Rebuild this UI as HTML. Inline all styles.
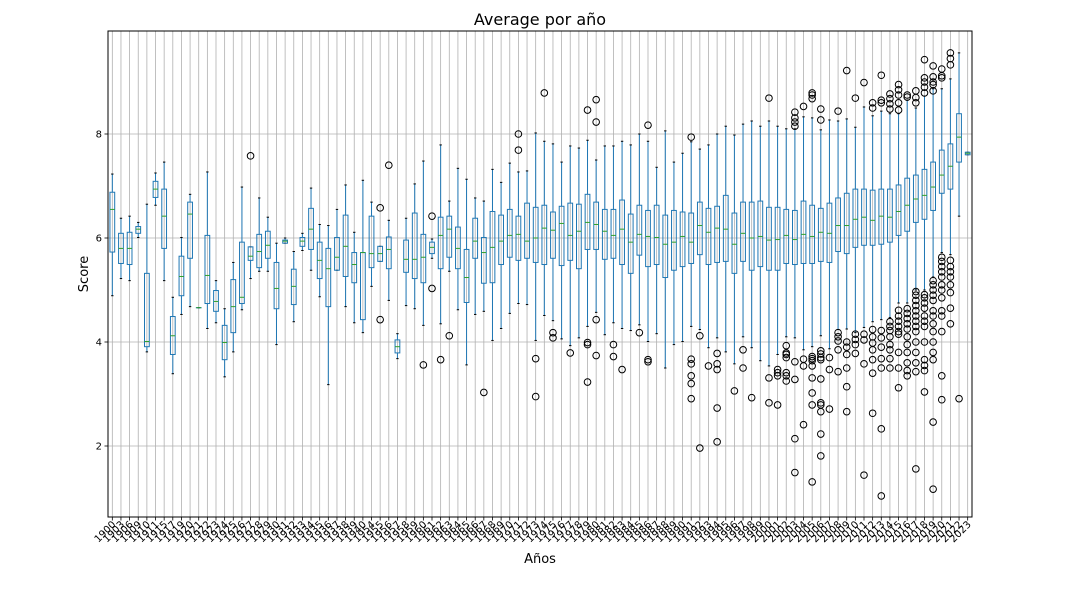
<!DOCTYPE html>
<html><head><meta charset="utf-8"><style>
html,body{margin:0;padding:0;background:#fff;}
svg{display:block;font-family:"DejaVu Sans","Liberation Sans",sans-serif;}
</style></head><body>
<svg id="chart" width="1080" height="614" viewBox="0 0 1080 614" xmlns="http://www.w3.org/2000/svg">
<rect x="0" y="0" width="1080" height="614" fill="#fff"/>
<text x="540" y="25" font-size="16" text-anchor="middle" fill="#000">Average por año</text>
<text x="0" y="0" font-size="13" text-anchor="middle" transform="translate(88,274) rotate(-90)">Score</text>
<text x="540" y="563" font-size="13" text-anchor="middle">Años</text>
<g id="grid"></g><g id="marks"></g><g id="axes"></g>
</svg>
<script>
const years = [1900,1903,1906,1909,1910,1911,1915,1917,1919].concat(Array.from({length:21},(_, i)=>1920+i)).concat(Array.from({length:70},(_, i)=>1954+i));
const whiskLo = [4.89,5.22,5.18,6.01,3.81,6.63,5.18,3.39,4.53,4.68,4.66,4.26,4.37,3.33,3.81,4.62,5.22,5.36,5.36,3.95,5.90,4.39,5.76,5.38,4.87,3.18,5.38,4.68,4.37,4.18,5.07,5.55,4.80,3.68,4.70,4.64,4.32,5.61,4.35,5.36,4.62,3.56,4.53,4.59,4.03,4.26,4.55,4.74,4.72,4.03,4.51,4.41,4.06,3.93,4.08,4.30,4.57,4.14,4.37,4.26,4.22,4.33,4.01,4.16,3.50,3.95,4.01,4.30,4.24,3.89,4.08,3.81,3.58,4.10,3.89,3.64,3.54,3.76,4.10,4.08,3.85,3.91,4.12,3.87,4.24,4.25,4.18,4.28,4.39,4.43,4.47,4.75,4.75,5.0,5.0,5.25,5.72,5.68,6.42,7.60];
const q1 = [5.73,5.51,5.49,6.09,3.91,6.78,5.80,3.76,4.89,5.61,4.66,4.74,4.59,3.66,4.18,4.74,5.57,5.43,5.61,4.64,5.90,4.72,5.84,5.78,5.22,4.68,5.38,5.26,5.14,4.43,5.43,5.55,5.41,3.79,5.34,5.22,5.14,5.70,5.41,5.63,5.41,4.76,5.61,5.13,5.14,5.49,5.63,5.57,5.61,5.53,5.49,5.61,5.47,5.57,5.41,5.78,5.78,5.59,5.61,5.49,5.32,5.67,5.45,5.49,5.24,5.38,5.45,5.51,5.68,5.49,5.53,5.55,5.32,5.55,5.38,5.45,5.38,5.38,5.51,5.49,5.51,5.51,5.55,5.53,5.74,5.70,5.82,5.86,5.86,5.88,5.92,6.05,6.13,6.30,6.36,6.53,6.86,6.94,7.46,7.60];
const medians = [6.55,5.80,5.80,6.17,4.01,6.94,6.42,4.12,5.26,6.46,4.66,5.28,4.78,3.99,4.68,4.86,5.65,5.74,5.86,5.03,5.94,5.07,5.94,6.17,5.57,5.41,5.63,5.84,5.49,5.72,5.70,5.70,5.78,3.91,5.59,5.59,5.63,5.82,6.05,6.17,5.80,5.24,5.94,5.72,5.82,5.94,6.05,6.07,5.94,6.00,6.19,6.15,6.28,6.05,6.13,6.30,6.26,6.13,6.05,6.17,5.92,6.07,6.03,6.01,5.88,5.92,6.03,5.92,6.24,6.11,6.19,6.17,5.88,6.09,6.00,6.03,5.96,5.97,6.05,5.97,6.07,6.03,6.11,6.09,6.24,6.24,6.36,6.40,6.34,6.42,6.40,6.51,6.63,6.75,6.82,6.98,7.21,7.38,7.94,7.63];
const q3 = [6.88,6.09,6.11,6.22,5.32,7.09,6.94,4.49,5.65,6.69,4.66,6.05,4.99,4.32,5.20,5.92,5.83,6.07,6.13,5.53,5.96,5.40,6.01,6.57,5.92,5.80,6.01,6.44,5.72,5.72,6.42,5.84,6.02,4.04,5.96,6.48,6.07,5.92,6.40,6.42,6.21,5.78,6.38,6.01,6.51,6.44,6.55,6.42,6.67,6.59,6.63,6.50,6.61,6.67,6.65,6.84,6.69,6.55,6.55,6.73,6.46,6.63,6.53,6.63,6.44,6.53,6.50,6.48,6.69,6.57,6.61,6.82,6.48,6.69,6.69,6.71,6.59,6.59,6.55,6.53,6.71,6.63,6.57,6.67,6.77,6.86,6.94,6.94,6.92,6.94,6.94,7.02,7.15,7.21,7.32,7.46,7.69,7.81,8.39,7.65];
const whiskHi = [7.23,6.38,6.42,6.30,6.65,7.25,7.46,4.86,6.01,6.84,4.66,7.27,5.18,4.64,5.53,6.98,5.83,6.77,6.40,5.90,6.00,5.74,6.09,6.96,6.26,6.24,6.55,7.02,6.11,7.11,6.69,5.84,6.34,4.16,6.38,7.04,7.48,5.98,7.79,6.71,7.34,7.13,6.77,6.71,7.32,7.07,7.44,7.27,7.29,8.02,7.86,7.81,7.46,7.77,7.73,7.88,7.50,7.77,7.77,7.86,7.79,8.00,7.86,7.36,8.06,7.46,7.63,7.85,7.71,7.79,8.00,8.15,7.98,8.19,8.25,8.15,8.25,8.15,8.10,8.10,8.33,8.31,8.08,8.27,8.25,8.29,8.13,8.52,8.35,8.44,8.39,8.39,8.65,8.50,8.73,8.87,8.87,9.06,9.56,7.65];
const outliers = [[],[],[],[],[],[],[],[],[],[],[],[],[],[],[],[],[7.58],[],[],[],[],[],[],[],[],[],[],[],[],[],[],[6.58,4.43],[7.40],[],[],[],[3.56],[6.42,5.03],[3.66],[4.12],[],[],[],[3.03],[],[],[],[8.0,7.69],[],[3.68,2.95],[8.79],[4.18,4.08],[],[3.79],[],[8.46,3.99,3.95,3.23],[8.66,8.23,4.43,3.74],[],[3.95,3.72],[3.47],[],[4.18],[8.17,3.66,3.62],[],[],[],[],[7.94,3.67,3.58,3.35,3.20,2.91],[4.12,1.96],[3.54],[3.78,3.58,3.47,2.73,2.08],[],[3.06],[3.85,3.50],[2.93],[],[8.69,3.31,2.83],[3.47,3.41,3.35,2.79],[3.93,3.79,3.76,3.70,3.41,3.35,3.25],[8.42,8.31,8.23,8.15,3.62,3.28,2.14,1.49],[8.53,3.67,3.54,2.41],[8.79,8.75,8.68,3.72,3.68,3.64,3.54,3.31,3.02,2.79,1.31],[8.48,8.27,3.83,3.77,3.70,3.66,3.29,2.83,2.79,2.66,2.23,1.81],[3.70,3.47,2.71],[8.44,4.18,4.10,4.02,3.85,3.43],[9.22,4.0,3.9,3.76,3.50,3.14,2.66],[8.69,4.15,4.05,3.95,3.78],[8.99,4.15,4.04,3.58,1.44],[8.6,8.5,4.24,4.1,3.98,3.85,3.66,3.4,2.63],[9.13,8.65,8.6,4.22,4.08,3.9,3.68,3.5,2.33,1.04],[8.77,8.68,8.58,8.48,4.39,4.3,4.22,4.1,3.95,3.85,3.68,3.5],[8.95,8.85,8.75,8.6,8.46,4.61,4.5,4.4,4.3,4.2,4.15,3.8,3.5,3.12],[8.75,8.71,4.64,4.55,4.45,4.35,4.25,4.1,3.95,3.8,3.6,3.45,3.35],[8.83,8.7,8.6,4.97,4.9,4.8,4.7,4.6,4.5,4.4,4.3,4.2,4.0,3.8,3.6,3.43,1.56],[9.43,9.08,9.0,8.9,8.79,4.91,4.85,4.75,4.65,4.5,4.4,4.3,4.0,3.66,3.55,3.45,3.04],[9.31,9.1,9.0,8.95,8.83,5.18,5.1,5.0,4.9,4.8,4.6,4.5,4.35,4.2,4.0,3.8,3.66,2.46,1.17],[9.25,9.12,9.08,5.63,5.55,5.45,5.35,5.25,5.1,5.0,4.85,4.6,4.5,4.2,3.35,2.89],[9.56,9.45,9.33,5.57,5.45,5.35,5.25,5.1,4.95,4.65,4.35],[2.91],[]];
const yTicks = [2,4,6,8];

const NS = "http://www.w3.org/2000/svg";
const L = 108, R = 972, T = 31, B = 517;
const step = (R - L) / years.length;
function xPos(i){ return L + step * (i + 0.5); }
function yPos(v){ return 238 - (v - 6) * 52; }
function mk(tag, attrs, parent){ const e = document.createElementNS(NS, tag); for (const k in attrs) e.setAttribute(k, attrs[k]); parent.appendChild(e); return e; }
const grid = document.getElementById('grid'), marks = document.getElementById('marks'), axes = document.getElementById('axes');

years.forEach((yr, i) => {
  const g = mk('line', {x1: xPos(i), x2: xPos(i), y1: T, y2: B, stroke: '#b0b0b0', 'stroke-width': 0.8}, grid);
  
  
});
yTicks.forEach(v => {
  const g = mk('line', {x1: L, x2: R, y1: yPos(v), y2: yPos(v), stroke: '#b0b0b0', 'stroke-width': 0.8}, grid);
  
  
});

const bw = step * 0.55;
years.forEach((yr, i) => {
  const x = xPos(i);
  const grp = mk('g', {}, marks);
  
  
  mk('line', {x1: x, x2: x, y1: yPos(whiskHi[i]), y2: yPos(q3[i]), stroke: '#1f77b4', 'stroke-width': 1}, grp);
  mk('line', {x1: x, x2: x, y1: yPos(q1[i]), y2: yPos(whiskLo[i]), stroke: '#1f77b4', 'stroke-width': 1}, grp);
  mk('line', {x1: x - bw/4, x2: x + bw/4, y1: yPos(whiskHi[i]), y2: yPos(whiskHi[i]), stroke: '#000', 'stroke-width': 1}, grp);
  mk('line', {x1: x - bw/4, x2: x + bw/4, y1: yPos(whiskLo[i]), y2: yPos(whiskLo[i]), stroke: '#000', 'stroke-width': 1}, grp);
  mk('rect', {x: x - bw/2, y: yPos(q3[i]), width: bw, height: Math.max(0.1, yPos(q1[i]) - yPos(q3[i])), fill: 'none', stroke: '#1f77b4', 'stroke-width': 1}, grp);
  mk('line', {x1: x - bw/2, x2: x + bw/2, y1: yPos(medians[i]), y2: yPos(medians[i]), stroke: '#2ca02c', 'stroke-width': 1}, grp);
  outliers[i].forEach(v => {
    const c = mk('circle', {cx: x, cy: yPos(v), r: 3.3, fill: 'none', stroke: '#000', 'stroke-width': 1}, grp);
    
    
  });
  const t = mk('line', {x1: x, x2: x, y1: B, y2: B + 3.5, stroke: '#000', 'stroke-width': 0.8}, axes);
  
  
  const lab = mk('text', {x: 0, y: 0, 'font-size': 10, 'text-anchor': 'end', transform: 'translate(' + (x + 4) + ',' + (B + 8) + ') rotate(-45)'}, axes);
  lab.textContent = yr;
  
  
});
yTicks.forEach(v => {
  const t = mk('line', {x1: L - 3.5, x2: L, y1: yPos(v), y2: yPos(v), stroke: '#000', 'stroke-width': 0.8}, axes);
  
  
  const lab = mk('text', {x: L - 6, y: yPos(v) + 3.5, 'font-size': 10, 'text-anchor': 'end'}, axes);
  lab.textContent = v;
  
  
});
const frame = mk('rect', {x: L, y: T, width: R - L, height: B - T, fill: 'none', stroke: '#000', 'stroke-width': 1}, axes);


</script>
</body></html>
